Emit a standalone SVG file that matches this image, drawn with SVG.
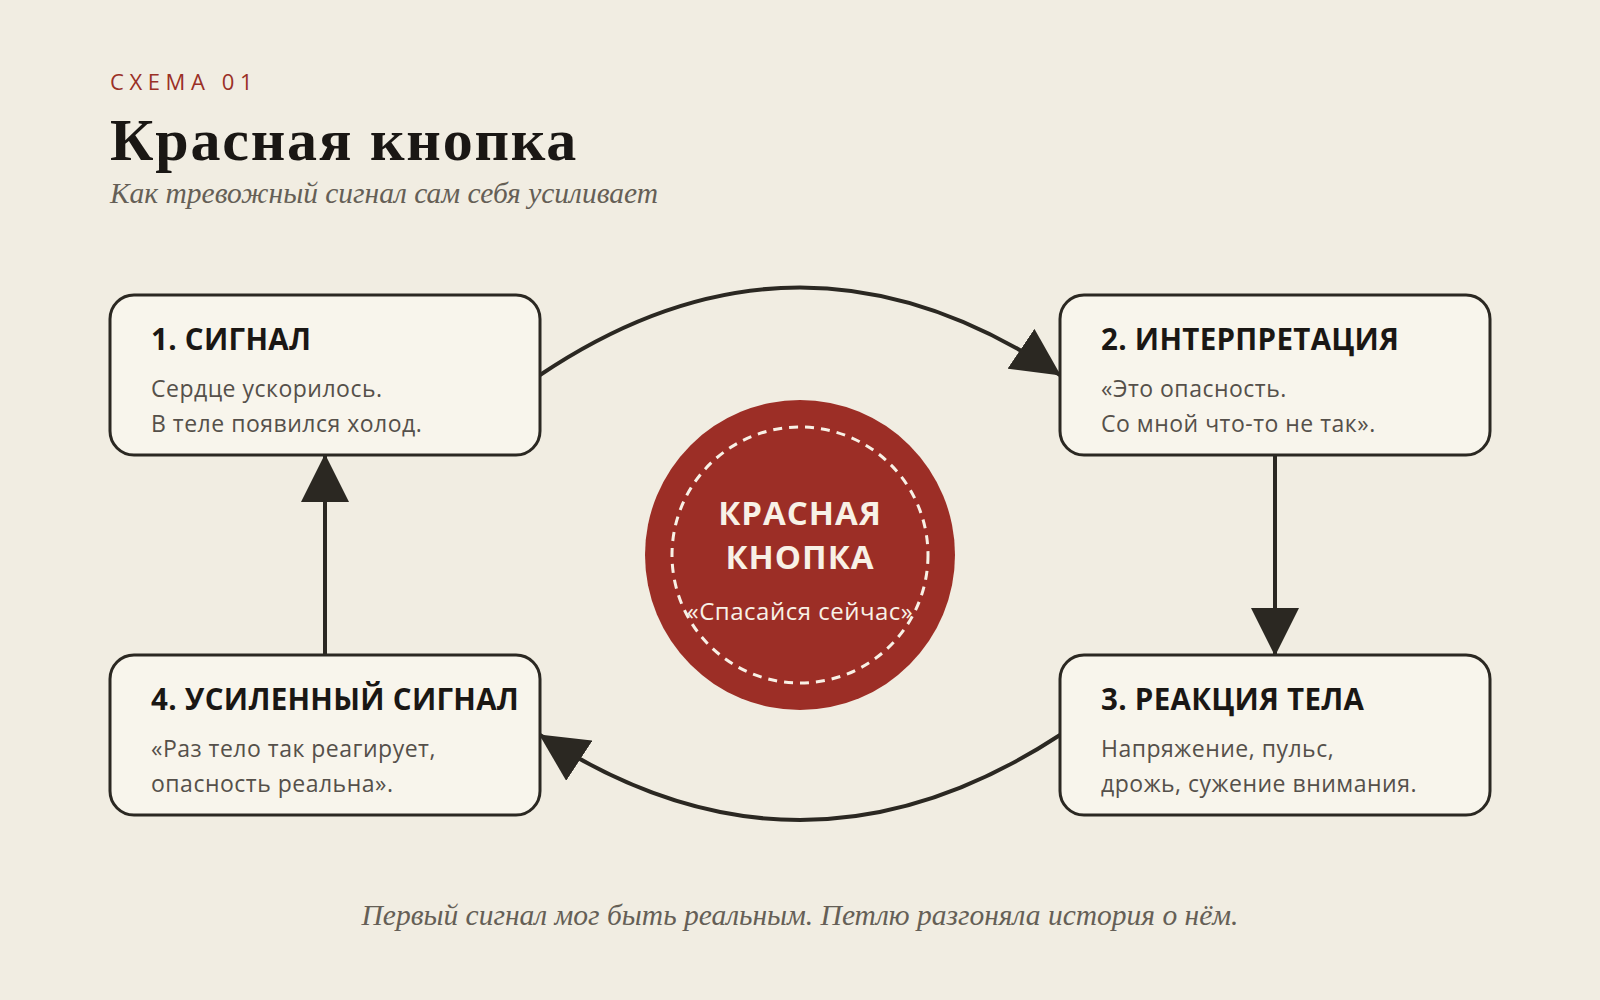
<svg xmlns="http://www.w3.org/2000/svg" width="1600" height="1000" viewBox="0 0 1600 1000">
  <defs>
    <style>
      .kicker { font-family: "Open Sans", "Noto Sans", sans-serif; font-size: 22px; fill: #9a3026; letter-spacing: 5.6px; }
      .title { font-family: "Liberation Serif", "DejaVu Serif", serif; font-size: 60px; font-weight: bold; fill: #1a1714; letter-spacing: 1.8px; }
      .subtitle { font-family: "Liberation Serif", "DejaVu Serif", serif; font-size: 29.5px; font-style: italic; fill: #655f56; }
      .box { fill: #f8f5ec; stroke: #2b2822; stroke-width: 3; }
      .btitle { font-family: "Open Sans", "Noto Sans", sans-serif; font-size: 29.5px; font-weight: bold; fill: #1a1714; letter-spacing: 0.3px; }
      .bbody { font-family: "Open Sans", "Noto Sans", sans-serif; font-size: 23px; fill: #55504a; letter-spacing: 0.5px; }
      .conn { fill: none; stroke: #2b2822; stroke-width: 4; }
      .ctext { font-family: "Open Sans", "Noto Sans", sans-serif; font-size: 33px; font-weight: bold; fill: #f8f1e6; text-anchor: middle; letter-spacing: 1px; }
      .csub { font-family: "Open Sans", "Noto Sans", sans-serif; font-size: 24px; fill: #f8f1e6; text-anchor: middle; letter-spacing: 0.5px; }
      .footer { font-family: "Liberation Serif", "DejaVu Serif", serif; font-size: 29.5px; font-style: italic; fill: #655f56; text-anchor: middle; }
    </style>
    <marker id="arrow" markerUnits="userSpaceOnUse" markerWidth="48" markerHeight="48" refX="47" refY="24" orient="auto">
      <path d="M0,0 L48,24 L0,48 z" fill="#2b2822"/>
    </marker>
  </defs>

  <rect x="0" y="0" width="1600" height="1000" fill="#f1ede2"/>

  <g id="header">
    <text class="kicker" x="110" y="90">СХЕМА 01</text>
    <text class="title" x="110" y="160">Красная кнопка</text>
    <text class="subtitle" x="110" y="203">Как тревожный сигнал сам себя усиливает</text>
  </g>

  <g id="connectors">
    <path class="conn" d="M540,375 Q800,200 1060,375" marker-end="url(#arrow)"/>
    <path class="conn" d="M1275,455 L1275,655" marker-end="url(#arrow)"/>
    <path class="conn" d="M1060,735 Q800,905 540,735" marker-end="url(#arrow)"/>
    <path class="conn" d="M325,655 L325,455" marker-end="url(#arrow)"/>
  </g>

  <g id="node1">
    <rect class="box" x="110" y="295" width="430" height="160" rx="24"/>
    <text class="btitle" x="151" y="350">1. СИГНАЛ</text>
    <text class="bbody" x="151" y="397">Сердце ускорилось.</text>
    <text class="bbody" x="151" y="432">В теле появился холод.</text>
  </g>

  <g id="node2">
    <rect class="box" x="1060" y="295" width="430" height="160" rx="24"/>
    <text class="btitle" x="1101" y="350">2. ИНТЕРПРЕТАЦИЯ</text>
    <text class="bbody" x="1101" y="397">«Это опасность.</text>
    <text class="bbody" x="1101" y="432">Со мной что-то не так».</text>
  </g>

  <g id="node3">
    <rect class="box" x="1060" y="655" width="430" height="160" rx="24"/>
    <text class="btitle" x="1101" y="710">3. РЕАКЦИЯ ТЕЛА</text>
    <text class="bbody" x="1101" y="757">Напряжение, пульс,</text>
    <text class="bbody" x="1101" y="792">дрожь, сужение внимания.</text>
  </g>

  <g id="node4">
    <rect class="box" x="110" y="655" width="430" height="160" rx="24"/>
    <text class="btitle" x="151" y="710">4. УСИЛЕННЫЙ СИГНАЛ</text>
    <text class="bbody" x="151" y="757">«Раз тело так реагирует,</text>
    <text class="bbody" x="151" y="792">опасность реальна».</text>
  </g>

  <g id="center">
    <circle cx="800" cy="555" r="155" fill="#9c2e26"/>
    <circle cx="800" cy="555" r="128" fill="none" stroke="#f8f1e6" stroke-width="3" stroke-dasharray="9 7"/>
    <text class="ctext" x="800" y="525">КРАСНАЯ</text>
    <text class="ctext" x="800" y="569">КНОПКА</text>
    <text class="csub" x="800" y="620">«Спасайся сейчас»</text>
  </g>

  <g id="footer">
    <text class="footer" x="800" y="925">Первый сигнал мог быть реальным. Петлю разгоняла история о нём.</text>
  </g>
</svg>
